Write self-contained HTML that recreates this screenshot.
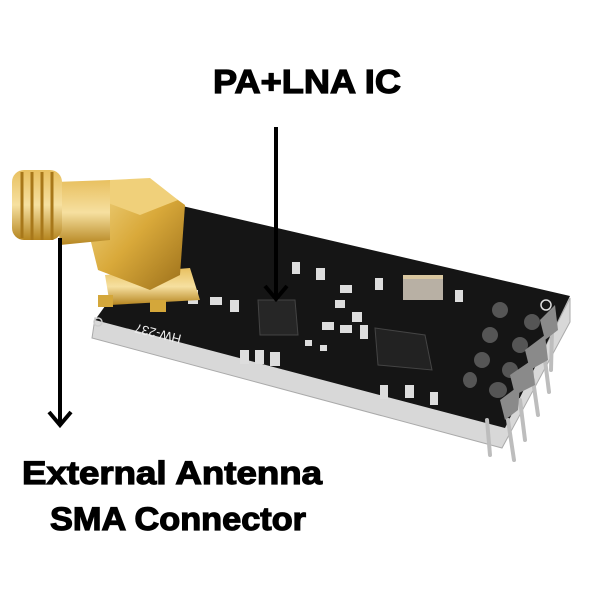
<!DOCTYPE html>
<html><head><meta charset="utf-8"><style>
html,body{margin:0;padding:0;background:#fff;}
svg{display:block}
text{font-family:"Liberation Sans",sans-serif;font-weight:bold;fill:#000}
</style></head><body>
<svg width="600" height="600" viewBox="0 0 600 600">
<defs>
<linearGradient id="gold" x1="0" y1="0" x2="1" y2="1">
<stop offset="0" stop-color="#f3d98a"/><stop offset="0.5" stop-color="#d9a93a"/><stop offset="1" stop-color="#9b6f1a"/></linearGradient>
<linearGradient id="gold2" x1="0" y1="0" x2="0" y2="1">
<stop offset="0" stop-color="#e8c060"/><stop offset="0.5" stop-color="#f6e0a0"/><stop offset="1" stop-color="#b5851f"/></linearGradient>
</defs>
<polygon points="95,318 505,425 570,298 570,322 502,448 92,338" fill="#d8d8d8" stroke="#aaa" stroke-width="1"/>
<polygon points="178,205 570,296 505,428 95,320" fill="#151515"/>
<g stroke="#bdbdbd" stroke-width="4" stroke-linecap="round">
<line x1="487" y1="420" x2="490" y2="455"/><line x1="508" y1="420" x2="514" y2="460"/>
<line x1="520" y1="400" x2="525" y2="440"/><line x1="533" y1="380" x2="538" y2="415"/>
<line x1="545" y1="360" x2="549" y2="392"/><line x1="552" y1="330" x2="551" y2="370"/>
</g>
<g fill="#555">
<ellipse cx="500" cy="310" rx="8" ry="8"/><ellipse cx="532" cy="322" rx="8" ry="8"/>
<ellipse cx="490" cy="335" rx="8" ry="8"/><ellipse cx="520" cy="345" rx="8" ry="8"/>
<ellipse cx="482" cy="360" rx="8" ry="8"/><ellipse cx="510" cy="370" rx="8" ry="8"/>
<ellipse cx="470" cy="380" rx="7" ry="8"/><ellipse cx="498" cy="390" rx="9" ry="8"/>
</g>
<g fill="#8a8a8a"><polygon points="540,320 555,305 558,330 545,340"/><polygon points="525,350 545,335 548,360 530,370"/><polygon points="510,375 532,360 535,385 515,395"/><polygon points="500,400 520,385 518,410 505,420"/></g>
<circle cx="546" cy="305" r="5" fill="none" stroke="#ddd" stroke-width="1.5"/>
<circle cx="98" cy="322" r="4" fill="none" stroke="#ccc" stroke-width="1.5"/>
<polygon points="258,300 295,300 298,335 260,335" fill="#262626" stroke="#444"/>
<polygon points="375,328 425,335 432,370 378,365" fill="#222" stroke="#444"/>
<rect x="403" y="275" width="40" height="25" fill="#b8b0a4"/>
<rect x="403" y="275" width="40" height="4" fill="#d9c7a0"/>
<g fill="#ddd">
<rect x="188" y="290" width="10" height="14"/><rect x="210" y="297" width="12" height="8"/><rect x="230" y="300" width="9" height="12"/>
<rect x="292" y="262" width="8" height="12"/><rect x="316" y="268" width="9" height="12"/>
<rect x="340" y="285" width="12" height="8"/><rect x="335" y="300" width="10" height="8"/><rect x="352" y="312" width="10" height="10"/>
<rect x="322" y="322" width="12" height="8"/><rect x="340" y="325" width="12" height="8"/><rect x="360" y="325" width="8" height="14"/>
<rect x="375" y="278" width="8" height="12"/><rect x="455" y="290" width="8" height="12"/>
<rect x="240" y="350" width="9" height="14"/><rect x="255" y="350" width="9" height="14"/><rect x="270" y="352" width="10" height="14"/>
<rect x="380" y="385" width="8" height="14"/><rect x="405" y="385" width="9" height="13"/><rect x="430" y="392" width="8" height="13"/>
<rect x="320" y="345" width="7" height="6"/><rect x="305" y="340" width="7" height="6"/>
</g>
<text x="0" y="0" transform="translate(182,335) rotate(194)" font-size="13" style="fill:#eee;font-weight:normal">HW-237</text>
<polygon points="105,275 190,268 200,300 110,305" fill="url(#gold2)"/>
<rect x="98" y="295" width="15" height="12" fill="#d4a73a"/><rect x="150" y="300" width="16" height="12" fill="#d4a73a"/>
<polygon points="92,185 150,180 185,205 180,275 150,290 98,270 88,230" fill="url(#gold)"/>
<polygon points="110,180 150,178 178,200 140,215 100,200" fill="#f0d07a"/>
<polygon points="55,182 110,180 110,240 60,245" fill="url(#gold2)"/>
<rect x="12" y="170" width="50" height="70" rx="12" fill="url(#gold2)"/>
<g stroke="#a8781a" stroke-width="3"><line x1="22" y1="172" x2="22" y2="238"/><line x1="32" y1="172" x2="32" y2="240"/><line x1="42" y1="172" x2="42" y2="240"/><line x1="52" y1="172" x2="52" y2="240"/></g>
<line x1="276" y1="127" x2="276" y2="298" stroke="#000" stroke-width="4"/>
<polyline points="265,286 276,299 287,286" fill="none" stroke="#000" stroke-width="4"/>
<line x1="60" y1="238" x2="60" y2="424" stroke="#000" stroke-width="4"/>
<polyline points="49,412 60,425 71,412" fill="none" stroke="#000" stroke-width="4"/>
<g stroke="#000" stroke-width="1.2">
<text x="213" y="93" font-size="33" textLength="188" lengthAdjust="spacingAndGlyphs">PA+LNA IC</text>
<text x="22" y="484" font-size="32" textLength="300" lengthAdjust="spacingAndGlyphs">External Antenna</text>
<text x="50" y="530" font-size="32" textLength="256" lengthAdjust="spacingAndGlyphs">SMA Connector</text>
</g>
</svg>
</body></html>
